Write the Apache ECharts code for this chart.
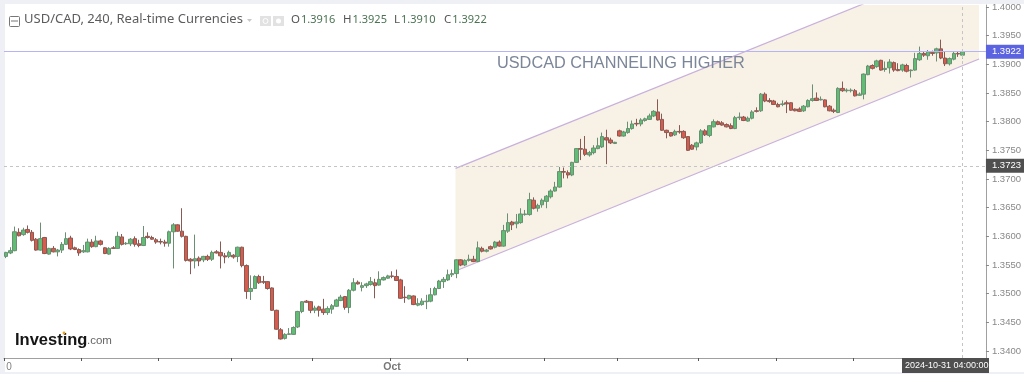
<!DOCTYPE html>
<html>
<head>
<meta charset="utf-8">
<style>
	html, body { margin: 0; padding: 0; background: #fff; }
	#main { width: 1024px; height: 374px; }
</style>
<script src="https://cdn.jsdelivr.net/npm/echarts@6/dist/echarts.min.js"></script>
</head>
<body>
<div id="main"></div>
<script>
// USD/CAD 4h candles
var opens = [
	1.3565,1.3571,1.3575,1.3607,1.3603,1.3612,1.3607,1.3595,1.3576,1.3598,
	1.3569,1.3579,1.3573,1.3576,1.3586,1.3597,1.3580,1.3577,1.3573,1.3573,
	1.3590,1.3582,1.3592,1.3580,1.3569,1.3580,1.3579,1.3599,1.3587,1.3587,
	1.3596,1.3587,1.3584,1.3600,1.3598,1.3594,1.3591,1.3590,1.3588,1.3608,
	1.3620,1.3609,1.3600,1.3560,1.3557,1.3562,1.3559,1.3565,1.3560,1.3573,
	1.3572,1.3566,1.3565,1.3567,1.3565,1.3581,1.3549,1.3504,1.3509,1.3530,
	1.3521,1.3521,1.3510,1.3471,1.3437,1.3422,1.3429,1.3429,1.3442,1.3469,
	1.3487,1.3486,1.3471,1.3477,1.3473,1.3467,1.3473,1.3478,1.3488,1.3495,
	1.3476,1.3506,1.3520,1.3511,1.3514,1.3516,1.3519,1.3515,1.3524,1.3527,
	1.3531,1.3530,1.3524,1.3494,1.3491,1.3496,1.3480,1.3481,1.3486,1.3487,
	1.3498,1.3509,1.3521,1.3524,1.3533,1.3535,1.3559,1.3550,1.3558,1.3560,
	1.3556,1.3579,1.3574,1.3582,1.3581,1.3590,1.3583,1.3609,1.3625,1.3622,
	1.3624,1.3638,1.3638,1.3663,1.3649,1.3655,1.3661,1.3669,1.3679,1.3686,
	1.3713,1.3711,1.3707,1.3729,1.3753,1.3752,1.3742,1.3746,1.3753,1.3756,
	1.3772,1.3768,1.3762,1.3784,1.3775,1.3781,1.3788,1.3797,1.3796,1.3802,
	1.3804,1.3810,1.3817,1.3804,1.3785,1.3781,1.3777,1.3783,1.3783,1.3774,
	1.3759,1.3756,1.3763,1.3784,1.3776,1.3791,1.3800,1.3798,1.3795,1.3793,
	1.3788,1.3807,1.3808,1.3801,1.3806,1.3819,1.3819,1.3848,1.3837,1.3836,
	1.3830,1.3830,1.3833,1.3833,1.3822,1.3822,1.3819,1.3826,1.3837,1.3841,
	1.3838,1.3838,1.3827,1.3820,1.3816,1.3858,1.3854,1.3854,1.3854,1.3846,
	1.3848,1.3882,1.3898,1.3896,1.3907,1.3891,1.3894,1.3903,1.3891,1.3890,
	1.3898,1.3889,1.3890,1.3908,1.3919,1.3915,1.3921,1.3920,1.3927,1.3911,
	1.3901,1.3909,1.3919,1.3916
];
var closes = [
	1.3572,1.3575,1.3608,1.3601,1.3611,1.3607,1.3593,1.3576,1.3596,1.3570,
	1.3579,1.3573,1.3576,1.3586,1.3596,1.3578,1.3577,1.3571,1.3575,1.3590,
	1.3582,1.3592,1.3586,1.3570,1.3579,1.3579,1.3600,1.3586,1.3588,1.3595,
	1.3586,1.3584,1.3598,1.3598,1.3595,1.3590,1.3590,1.3588,1.3608,1.3620,
	1.3609,1.3600,1.3558,1.3557,1.3561,1.3557,1.3565,1.3560,1.3572,1.3571,
	1.3566,1.3564,1.3572,1.3564,1.3581,1.3549,1.3504,1.3509,1.3530,1.3519,
	1.3520,1.3509,1.3471,1.3438,1.3421,1.3429,1.3430,1.3441,1.3469,1.3486,
	1.3485,1.3471,1.3475,1.3471,1.3467,1.3474,1.3479,1.3489,1.3494,1.3476,
	1.3506,1.3519,1.3517,1.3514,1.3517,1.3521,1.3514,1.3525,1.3528,1.3531,
	1.3530,1.3523,1.3492,1.3493,1.3497,1.3481,1.3483,1.3487,1.3487,1.3498,
	1.3509,1.3522,1.3525,1.3533,1.3535,1.3559,1.3550,1.3558,1.3560,1.3556,
	1.3580,1.3574,1.3576,1.3578,1.3590,1.3583,1.3610,1.3624,1.3620,1.3625,
	1.3639,1.3639,1.3664,1.3649,1.3654,1.3663,1.3670,1.3679,1.3686,1.3713,
	1.3712,1.3707,1.3729,1.3753,1.3752,1.3743,1.3746,1.3754,1.3758,1.3774,
	1.3768,1.3763,1.3764,1.3775,1.3782,1.3788,1.3796,1.3796,1.3803,1.3805,
	1.3810,1.3818,1.3803,1.3785,1.3781,1.3775,1.3783,1.3782,1.3772,1.3750,
	1.3752,1.3763,1.3784,1.3777,1.3793,1.3800,1.3795,1.3794,1.3791,1.3788,
	1.3807,1.3808,1.3802,1.3806,1.3817,1.3818,1.3848,1.3836,1.3835,1.3830,
	1.3826,1.3831,1.3831,1.3820,1.3819,1.3818,1.3827,1.3837,1.3840,1.3837,
	1.3839,1.3826,1.3819,1.3818,1.3858,1.3854,1.3855,1.3855,1.3845,1.3848,
	1.3883,1.3897,1.3893,1.3906,1.3890,1.3893,1.3904,1.3890,1.3889,1.3899,
	1.3888,1.3890,1.3910,1.3919,1.3916,1.3922,1.3919,1.3927,1.3911,1.3901,
	1.3910,1.3919,1.3918,1.3922
];
var lows = [
	1.3562,1.3569,1.3574,1.3600,1.3601,1.3605,1.3591,1.3575,1.3575,1.3569,
	1.3568,1.3572,1.3565,1.3571,1.3585,1.3576,1.3576,1.3566,1.3571,1.3572,
	1.3580,1.3581,1.3584,1.3569,1.3568,1.3578,1.3578,1.3584,1.3585,1.3583,
	1.3582,1.3581,1.3583,1.3596,1.3594,1.3587,1.3586,1.3582,1.3582,1.3544,
	1.3608,1.3598,1.3556,1.3534,1.3544,1.3548,1.3555,1.3557,1.3557,1.3570,
	1.3544,1.3553,1.3562,1.3561,1.3555,1.3546,1.3491,1.3489,1.3508,1.3517,
	1.3517,1.3507,1.3470,1.3437,1.3420,1.3420,1.3428,1.3428,1.3440,1.3466,
	1.3484,1.3466,1.3466,1.3460,1.3463,1.3463,1.3465,1.3477,1.3487,1.3472,
	1.3466,1.3504,1.3516,1.3504,1.3510,1.3514,1.3492,1.3514,1.3523,1.3526,
	1.3527,1.3522,1.3491,1.3484,1.3490,1.3480,1.3478,1.3479,1.3473,1.3485,
	1.3497,1.3508,1.3510,1.3522,1.3529,1.3527,1.3548,1.3548,1.3556,1.3555,
	1.3555,1.3572,1.3572,1.3577,1.3579,1.3582,1.3582,1.3606,1.3611,1.3614,
	1.3622,1.3636,1.3636,1.3647,1.3643,1.3650,1.3649,1.3666,1.3678,1.3685,
	1.3701,1.3701,1.3705,1.3728,1.3733,1.3740,1.3739,1.3743,1.3752,1.3754,
	1.3726,1.3761,1.3761,1.3774,1.3774,1.3779,1.3786,1.3792,1.3792,1.3800,
	1.3803,1.3808,1.3802,1.3784,1.3771,1.3774,1.3775,1.3779,1.3770,1.3749,
	1.3751,1.3750,1.3761,1.3775,1.3773,1.3790,1.3794,1.3793,1.3790,1.3787,
	1.3787,1.3803,1.3801,1.3800,1.3804,1.3816,1.3817,1.3834,1.3833,1.3829,
	1.3825,1.3827,1.3815,1.3819,1.3818,1.3817,1.3817,1.3825,1.3835,1.3836,
	1.3837,1.3825,1.3818,1.3815,1.3815,1.3852,1.3851,1.3851,1.3844,1.3845,
	1.3839,1.3881,1.3891,1.3894,1.3889,1.3887,1.3884,1.3887,1.3888,1.3887,
	1.3886,1.3877,1.3889,1.3906,1.3913,1.3908,1.3915,1.3905,1.3909,1.3897,
	1.3898,1.3907,1.3913,1.3910
];
var highs = [
	1.3573,1.3581,1.3617,1.3614,1.3615,1.3619,1.3611,1.3597,1.3624,1.3599,
	1.3580,1.3583,1.3578,1.3590,1.3607,1.3601,1.3582,1.3579,1.3585,1.3596,
	1.3595,1.3601,1.3594,1.3581,1.3581,1.3583,1.3608,1.3604,1.3590,1.3597,
	1.3600,1.3594,1.3618,1.3607,1.3601,1.3597,1.3596,1.3594,1.3610,1.3623,
	1.3621,1.3649,1.3601,1.3562,1.3603,1.3565,1.3566,1.3568,1.3575,1.3576,
	1.3591,1.3571,1.3575,1.3569,1.3582,1.3582,1.3551,1.3532,1.3532,1.3533,
	1.3531,1.3522,1.3511,1.3472,1.3440,1.3431,1.3440,1.3443,1.3470,1.3487,
	1.3489,1.3487,1.3479,1.3479,1.3491,1.3478,1.3482,1.3491,1.3498,1.3496,
	1.3508,1.3527,1.3523,1.3520,1.3519,1.3529,1.3526,1.3539,1.3530,1.3533,
	1.3539,1.3542,1.3526,1.3513,1.3498,1.3497,1.3492,1.3492,1.3498,1.3510,
	1.3512,1.3524,1.3529,1.3542,1.3542,1.3560,1.3560,1.3560,1.3568,1.3566,
	1.3591,1.3582,1.3578,1.3584,1.3592,1.3593,1.3620,1.3640,1.3627,1.3639,
	1.3649,1.3646,1.3676,1.3668,1.3657,1.3666,1.3672,1.3682,1.3695,1.3721,
	1.3720,1.3715,1.3730,1.3754,1.3770,1.3775,1.3749,1.3759,1.3772,1.3781,
	1.3786,1.3772,1.3765,1.3786,1.3784,1.3800,1.3802,1.3805,1.3806,1.3807,
	1.3814,1.3820,1.3839,1.3814,1.3786,1.3782,1.3786,1.3794,1.3785,1.3775,
	1.3761,1.3765,1.3787,1.3787,1.3794,1.3804,1.3802,1.3801,1.3797,1.3797,
	1.3810,1.3816,1.3810,1.3809,1.3820,1.3825,1.3850,1.3851,1.3841,1.3838,
	1.3833,1.3837,1.3837,1.3834,1.3823,1.3825,1.3829,1.3839,1.3865,1.3851,
	1.3844,1.3839,1.3829,1.3823,1.3860,1.3870,1.3858,1.3858,1.3857,1.3851,
	1.3884,1.3899,1.3900,1.3908,1.3908,1.3905,1.3909,1.3905,1.3902,1.3901,
	1.3901,1.3891,1.3920,1.3931,1.3922,1.3925,1.3924,1.3929,1.3943,1.3922,
	1.3912,1.3922,1.3922,1.3925
];

var yTicks = [1.34,1.345,1.35,1.355,1.36,1.365,1.37,1.375,1.38,1.385,1.39,1.395,1.40];
// bar indexes that carry a time tick, and the two that have a label
var xTickIndexes = [0,18,36,53,72,90,108,126,143,162,180,198];
var xTickLabels = { 0: "0", 90: "Oct" };
var emptyBarsOnRight = 5;

var lastPrice = 1.3922;
var levelPrice = 1.3723;
var lastBarIndex = 223;
var lastBarTime = "2024-10-31 04:00:00";

var legendName = "USD/CAD, 240, Real-time Currencies";
var legendLetters = ["O", "H", "L", "C"];
var legendValues = ["1.3916", "1.3925", "1.3910", "1.3922"];
var noteText = "USDCAD CHANNELING HIGHER";

// channel drawn on the picture, [bar position, price]
var channelUpper = [[104.8, 1.37186], [226.9, 1.40869]];
var channelLower = [[104.8, 1.35395], [226.9, 1.39093]];

var categories = [];
for (var n = 0; n < opens.length + emptyBarsOnRight; n++) {
	categories.push(String(n));
}

var candleData = opens.map(function(each, i) {
	return [each, closes[i], lows[i], highs[i]];
});

function isTimeTick(index) {
	return xTickIndexes.indexOf(index) >= 0;
}

/**
 * 채널 사이 영역 (the shaded band between both channel lines)
 */
function renderChannel(params, api) {
	if (params.dataIndex !== 0) {
		return null;
	}
	var pts = channelUpper.concat(channelLower.slice().reverse()).map(function(p) {
		return api.coord(p);
	});
	return {
		type: "polygon",
		shape: { points: pts },
		style: { fill: "#f7f1e6" }
	};
}

function legendTitles() {
	var lefts = [291, 343, 394, 444];
	return legendLetters.map(function(letter, i) {
		return {
			left: lefts[i],
			top: 14,
			padding: 0,
			text: "{a|" + letter + "}{b|" + legendValues[i] + "}",
			textStyle: {
				fontWeight: "normal",
				rich: {
					a: { fontFamily: "Noto Sans", fontSize: 11.5, fontWeight: "normal", color: "#555", padding: [0, 1, 0, 0] },
					b: { fontFamily: "Noto Sans", fontSize: 11, fontWeight: "normal", color: "#4a7352" }
				}
			}
		};
	});
}

var voChart = echarts.init(document.getElementById("main"), null, { renderer: "canvas" });

voChart.setOption({
	animation: false,
	backgroundColor: "#fff",
	title: [{
		left: 24,
		top: 13,
		padding: 0,
		text: legendName,
		textStyle: { fontFamily: "Noto Sans", fontSize: 13, fontWeight: "normal", color: "#5c5c5c" }
	}].concat(legendTitles()),
	grid: { left: 4, right: 35, top: 5, bottom: 16 },
	xAxis: [
		{
			type: "category",
			data: categories,
			boundaryGap: true,
			axisLine: { lineStyle: { color: "#a0a0a0", width: 1 } },
			axisTick: {
				show: true,
				length: 3,
				lineStyle: { color: "#555", width: 1 },
				customValues: xTickIndexes
			},
			axisLabel: {
				interval: function(i) { return isTimeTick(i); },
				formatter: function(value) {
					var label = xTickLabels[value] || "";
					return label === "Oct" ? "{strong|Oct}" : label;
				},
				alignMinLabel: "left",
				margin: 4,
				fontFamily: "Liberation Sans",
				fontSize: 10,
				color: "#808080",
				rich: {
					strong: { fontFamily: "Liberation Sans", fontSize: 10.5, fontWeight: "bold", color: "#777" }
				}
			},
			splitLine: { show: false }
		},
		{
			// fractional bar positions for the channel
			type: "value",
			show: false,
			min: -0.5,
			max: categories.length - 0.5
		}
	],
	yAxis: {
		type: "value",
		position: "right",
		scale: true,
		min: 1.33878,
		max: 1.40035,
		axisLine: { show: true, onZero: false, lineStyle: { color: "#a0a0a0", width: 1 } },
		axisTick: { show: true, length: 3, lineStyle: { color: "#888" }, customValues: yTicks },
		axisLabel: {
			customValues: yTicks,
			margin: 6,
			fontFamily: "Liberation Sans",
			fontSize: 9.5,
			color: "#888",
			formatter: function(value) { return value.toFixed(4); }
		},
		splitLine: { show: false }
	},
	graphic: [
		// outer page strips
		{ type: "rect", left: 0, top: 0, z: -1, shape: { width: 1024, height: 4 }, style: { fill: "#eef0f6" } },
		{ type: "rect", left: 0, top: 0, z: -1, shape: { width: 5, height: 374 }, style: { fill: "#eef0f6" } },
		{ type: "rect", left: 0, top: 372, z: -1, shape: { width: 1024, height: 2 }, style: { fill: "#eef0f6" } },
		// legend icons
		{ type: "rect", left: 9, top: 16, shape: { width: 10, height: 10, r: 1 }, style: { fill: "#fff", stroke: "#777", lineWidth: 1 } },
		{ type: "line", shape: { x1: 11, y1: 21, x2: 18, y2: 21 }, style: { stroke: "#777", lineWidth: 1 } },
		{ type: "polygon", shape: { points: [[247, 19], [252, 19], [249.5, 22]] }, style: { fill: "#c8c8c8" } },
		{ type: "rect", left: 260, top: 16, shape: { width: 11, height: 10 }, style: { fill: "#e2e2e2" } },
		{ type: "circle", shape: { cx: 265.5, cy: 21, r: 2.5 }, style: { fill: "none", stroke: "#fff", lineWidth: 1 } },
		{ type: "rect", left: 273, top: 16, shape: { width: 11, height: 10 }, style: { fill: "#e2e2e2" } },
		{ type: "circle", shape: { cx: 278.5, cy: 21, r: 2.5 }, style: { fill: "#fff" } },
		// the note on the chart
		{ type: "text", left: 497, top: 56, z: 5, style: { text: noteText, fontFamily: "Liberation Sans", fontSize: 16.3, fill: "#7b8698" } },
		// logo
		{ type: "text", left: 15, top: 332, z: 5, style: { text: "Investing", fontFamily: "Liberation Sans", fontWeight: "bold", fontSize: 16.5, fill: "#151515" } },
		{ type: "text", left: 87, top: 335, z: 5, style: { text: ".com", fontFamily: "Liberation Sans", fontSize: 11.5, fill: "#666" } },
		{ type: "circle", z: 6, shape: { cx: 64, cy: 333, r: 1.4 }, style: { fill: "#f0a020" } },
		// time tag under the last bar
		{ type: "rect", left: 902, top: 358, z: 5, shape: { width: 87, height: 15 }, style: { fill: "#4f4f4f" } },
		{ type: "text", left: 905, top: 361, z: 6, style: { text: lastBarTime, fontFamily: "Liberation Sans", fontSize: 9, fill: "#fff" } }
	],
	series: [
		{
			name: "channel",
			type: "custom",
			xAxisIndex: 1,
			z: 1,
			clip: true,
			silent: true,
			renderItem: renderChannel,
			encode: { x: 0, y: 1 },
			data: channelUpper.concat(channelLower)
		},
		{
			name: "channelUpper",
			type: "line",
			xAxisIndex: 1,
			z: 2,
			showSymbol: false,
			silent: true,
			lineStyle: { color: "#c8b0dc", width: 1.2 },
			data: channelUpper
		},
		{
			name: "channelLower",
			type: "line",
			xAxisIndex: 1,
			z: 2,
			showSymbol: false,
			silent: true,
			lineStyle: { color: "#c8b0dc", width: 1.2 },
			data: channelLower
		},
		{
			name: "USD/CAD",
			type: "candlestick",
			z: 3,
			barWidth: 4,
			itemStyle: {
				color: "#5fbd74",
				color0: "#d85c4e",
				borderColor: "#6a8f72",
				borderColor0: "#8a5a52",
				borderWidth: 1
			},
			data: candleData,
			markLine: {
				silent: true,
				symbol: "none",
				animation: false,
				precision: 4,
				data: [
					{
						yAxis: lastPrice,
						lineStyle: { color: "#b4b4f6", type: "solid", width: 1, opacity: 1 },
						label: {
							position: "end", distance: 0, formatter: lastPrice.toFixed(4),
							backgroundColor: "#5c63e0", color: "#fff", fontFamily: "Liberation Sans",
							fontSize: 9.5, padding: [2, 5, 2, 6]
						}
					},
					{
						yAxis: levelPrice,
						lineStyle: { color: "#c4c4c4", type: [3, 3], width: 1 },
						label: {
							position: "end", distance: 0, formatter: levelPrice.toFixed(4),
							backgroundColor: "#4f4f4f", color: "#fff", fontFamily: "Liberation Sans",
							fontSize: 9.5, padding: [2, 5, 2, 6]
						}
					},
					{
						xAxis: String(lastBarIndex),
						lineStyle: { color: "#c4c4c4", type: [3, 3], width: 1 },
						label: { show: false }
					}
				]
			}
		}
	]
});

window.addEventListener("resize", function() {
	voChart.resize();
});
</script>
</body>
</html>
